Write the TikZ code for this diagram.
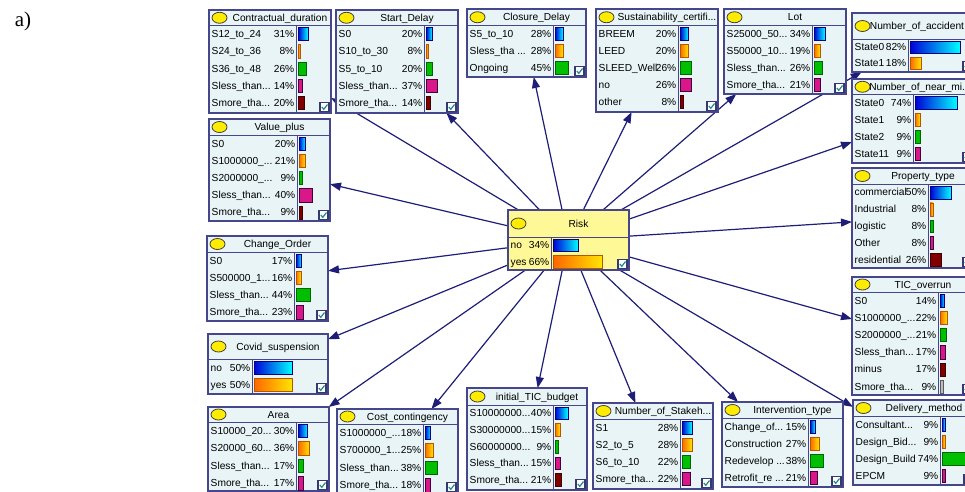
\documentclass[tikz,border=0pt]{standalone}
\usepackage{fontspec}
\setmainfont{Liberation Sans}
\newfontfamily\serifa{Liberation Serif}
\usetikzlibrary{arrows.meta}
\definecolor{boxfill}{RGB}{232,244,246}
\definecolor{riskfill}{RGB}{255,248,150}
\definecolor{boxedge}{RGB}{70,70,140}
\definecolor{arrowc}{RGB}{30,30,120}
\definecolor{iconfill}{RGB}{255,236,0}
\definecolor{chkc}{RGB}{30,140,140}
\pgfdeclarelayer{back}\pgfdeclarelayer{arrows}\pgfsetlayers{back,arrows,main}
\newcommand\tdots{...}
\def\nbF{boxfill}\def\nbRh{17.2}\def\nbTs{0}
\newcommand\nboxset[7]{\def\nbX{#1}\def\nbY{#2}\def\nbW{#3}\def\nbH{#4}\def\nbHd{#5}\def\nbDv{#6}\def\nbSc{#7}}
\newcommand\nbox[3]{%
  \node[nodebox, fill=\nbF, minimum width=\nbW pt, minimum height=\nbH pt, anchor=north west] (#1) at (\nbX,\nbY) {};
  \draw[boxline] (\nbX,\nbY+\nbHd) -- (\nbX+\nbW,\nbY+\nbHd);
  \draw[boxline] (\nbDv,\nbY+\nbHd) -- (\nbDv,\nbY+\nbH);
  \path[icon] (\nbX+10.5,\nbY+\nbHd/2) ellipse [x radius=7.5pt, y radius=5.5pt];
  \node[title] (#1t) at ({\nbX+\nbW/2+10+\nbTs},\nbY+\nbHd/2) {#2};
  \foreach \lab/\pc [count=\i] in {#3} {%
    \pgfmathsetmacro\ry{\nbY+\nbHd+\nbRh*(\i-0.5)}
    \pgfmathsetmacro\bwid{max(2,\pc*\nbSc)}
    \node[lab, anchor=west] (#1l\i) at (\nbX+2.5,\ry) {\lab};
    \node[lab, anchor=east] (#1p\i) at (\nbDv-1.5,\ry) {\pc\%};
    \path[bar\i] (\nbDv+2,\ry-\nbRh/2+2) rectangle ++(\bwid,\nbRh-4);
  }
  \path[chk] (\nbX+\nbW-11,\nbY+\nbH-10.5) rectangle ++(9,9);
  \draw[chkmark] (\nbX+\nbW-9.2,\nbY+\nbH-6) -- (\nbX+\nbW-7.2,\nbY+\nbH-3.7) -- (\nbX+\nbW-3.5,\nbY+\nbH-8.5);
}
\tikzset{
 nodebox/.style={draw=boxedge, line width=1.2pt, inner sep=0pt, outer sep=0pt, rectangle},
 boxline/.style={draw=boxedge, line width=1pt},
 icon/.style={draw=black!75, fill=iconfill, line width=0.8pt},
 title/.style={font=\fontsize{10.2}{12}\selectfont, inner sep=0pt, text height=8pt, text depth=1pt},
 lab/.style={font=\fontsize{10.2}{12}\selectfont, inner sep=0pt, text height=8pt, text depth=1pt},
 bar1/.style={draw=blue!50!black, line width=0.6pt, left color=blue!85!black, right color=cyan},
 bar2/.style={draw=orange!70!black, line width=0.6pt, left color=orange!80!red, right color=yellow!80!orange},
 bar3/.style={draw=green!40!black, line width=0.6pt, fill=green!75!black},
 bar4/.style={draw=violet!50!black, line width=0.6pt, fill=magenta!80!violet},
 bar5/.style={draw=red!25!black, line width=0.6pt, fill=red!50!black},
 bar6/.style={draw=gray!70!black, line width=0.6pt, fill=gray!50},
 chk/.style={draw=boxedge!80!black, line width=1.2pt, fill=white},
 chkmark/.style={draw=chkc, line width=1.2pt},
 arrow/.style={draw=arrowc, line width=1.2pt, -{Triangle[length=11pt,width=8pt]}},
}
\begin{document}
\begin{tikzpicture}[x=1pt,y=-1pt]
\useasboundingbox (0,0) rectangle (965,491);
\begin{pgfonlayer}{back}
\fill[white] (0,0) rectangle (965,491);
\end{pgfonlayer}
\clip (0,0) rectangle (965,491);
\node[font=\serifa\fontsize{21}{24}\selectfont, inner sep=0pt] (lbl) at (23,21) {a)};

\def\nbRh{17.2}
\nboxset{209}{10}{122}{103}{15.5}{296}{0.32}
\nbox{cd}{Contractual\_duration}{S12\_to\_24/31, S24\_to\_36/8, S36\_to\_48/26, Sless\_than\tdots/14, Smore\_tha\tdots/20}
\nboxset{336}{10}{122}{103}{15.5}{424}{0.31}
\nbox{sd}{Start\_Delay}{S0/20, S10\_to\_30/8, S5\_to\_10/20, Sless\_than\tdots/37, Smore\_tha\tdots/14}
\def\nbRh{17}
\nboxset{467}{9}{119}{68}{16.5}{553}{0.29}
\nbox{cl}{Closure\_Delay}{S5\_to\_10/28, Sless\_tha \tdots/28, Ongoing/45}
\nboxset{596}{9}{122}{103}{16.5}{678}{0.42}
\nbox{su}{Sustainability\_certifi\tdots}{BREEM/20, LEED/20, SLEED\_Well/26, no/26, other/8}
\nboxset{724}{9}{122}{85}{16.5}{812}{0.32}
\nbox{lot}{Lot}{S25000\_50\tdots/34, S50000\_10\tdots/19, Sless\_than\tdots/26, Smore\_tha\tdots/21}
\def\nbRh{16}\def\nbTs{-6}
\nboxset{852}{13}{122}{59}{26}{908}{0.61}
\nbox{acc}{Number\_of\_accident}{State0/82, State1/18}
\def\nbRh{17}\def\nbTs{-3}
\nboxset{852}{79}{122}{84}{15.5}{913}{0.57}
\nbox{nm}{Number\_of\_near\_mi\tdots}{State0/74, State1/9, State2/9, State11/9}
\def\nbRh{17.2}\def\nbTs{0}
\nboxset{209}{119}{121}{102}{16}{297}{0.32}
\nbox{vp}{Value\_plus}{S0/20, S1000000\_\tdots/21, S2000000\_\tdots/9, Sless\_than\tdots/40, Smore\_tha\tdots/9}
\def\nbRh{16.9}
\nboxset{852}{168}{122}{100}{16}{928}{0.42}
\nbox{pt}{Property\_type}{commercial/50, Industrial/8, logistic/8, Other/8, residential/26}
\def\nbRh{17.2}
\nboxset{207}{236}{121}{85}{16}{294}{0.32}
\nbox{co}{Change\_Order}{S0/17, S500000\_1\tdots/16, Sless\_than\tdots/44, Smore\_tha\tdots/23}
\nboxset{852}{277}{122}{118}{15}{938}{0.32}
\nbox{tic}{TIC\_overrun}{S0/14, S1000000\_\tdots/22, S2000000\_\tdots/21, Sless\_than\tdots/17, minus/17, Smore\_tha\tdots/9}
\def\nbRh{17}
\nboxset{208}{334}{120}{60}{25}{252}{0.76}
\nbox{cv}{Covid\_suspension}{no/50, yes/50}
\def\nbRh{17.5}
\nboxset{208}{407}{121}{84}{15}{296}{0.32}
\nbox{ar}{Area}{S10000\_20\tdots/30, S20000\_60\tdots/36, Sless\_than\tdots/17, Smore\_tha\tdots/17}
\nboxset{337}{409}{121}{84}{15}{423}{0.32}
\nbox{cc}{Cost\_contingency}{S1000000\_\tdots/18, S700000\_1\tdots/25, Sless\_than\tdots/38, Smore\_tha\tdots/18}
\def\nbRh{16.6}
\nboxset{467}{388}{120}{102}{17}{553}{0.32}
\nbox{it}{initial\_TIC\_budget}{S10000000\tdots/40, S30000000\tdots/15, S60000000\tdots/9, Sless\_than\tdots/15, Smore\_tha\tdots/21}
\def\nbRh{17}
\nboxset{593}{403}{120}{86}{16}{680}{0.36}
\nbox{ns}{Number\_of\_Stakeh\tdots}{S1/28, S2\_to\_5/28, S6\_to\_10/22, Smore\_tha\tdots/22}
\nboxset{722}{402}{121}{85}{16}{808}{0.34}
\nbox{iv}{Intervention\_type}{Change\_of\tdots/15, Construction/27, Redevelop \tdots/38, Retrofit\_re \tdots/21}
\nboxset{853}{400}{122}{85}{16}{940}{0.32}
\nbox{dm}{Delivery\_method}{Consultant\tdots/9, Design\_Bid\tdots/9, Design\_Build/74, EPCM/9}
\def\nbRh{16.5}
\def\nbF{riskfill}
\nboxset{508}{210}{121}{60}{27}{551}{0.75}
\nbox{risk}{Risk}{no/34, yes/66}

\begin{pgfonlayer}{arrows}
\foreach \n in {cd,sd,cl,su,lot,acc,nm,vp,pt,co,tic,cv,ar,cc,it,ns,iv,dm}
  \draw[arrow] (risk) -- (\n);
\end{pgfonlayer}
\end{tikzpicture}
\end{document}
